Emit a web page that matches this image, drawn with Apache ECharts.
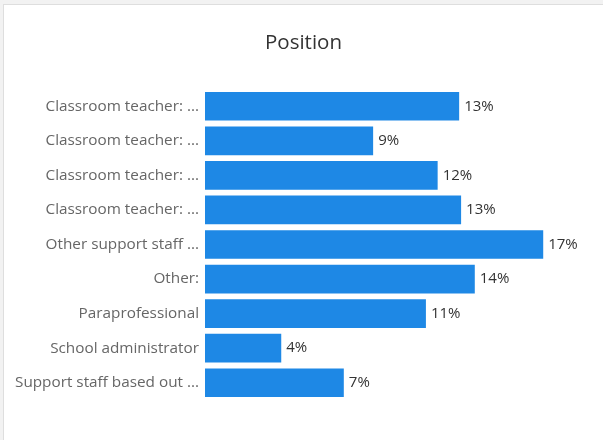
<!DOCTYPE html>
<html>
<head>
<meta charset="utf-8">
<script src="https://cdn.jsdelivr.net/npm/echarts@6/dist/echarts.min.js"></script>
<style>
  html, body { margin: 0; padding: 0; background: #f2f2f2; width: 603px; height: 440px; overflow: hidden; }
  #card { position: absolute; left: 3px; top: 4px; width: 640px; height: 480px; background: #fff; border: 1px solid #dedede; box-sizing: border-box; }
  #chart { position: absolute; left: 0; top: 0; width: 603px; height: 440px; }
</style>
</head>
<body>
<div id="card"></div>
<div id="chart"></div>
<script>
// Survey breakdown by respondent position (share of respondents, %)
const categories = [
  'Classroom teacher: ...',
  'Classroom teacher: ...',
  'Classroom teacher: ...',
  'Classroom teacher: ...',
  'Other support staff ...',
  'Other:',
  'Paraprofessional',
  'School administrator',
  'Support staff based out ...'
];
const shares = [13.0, 8.6, 11.9, 13.1, 17.3, 13.8, 11.3, 3.9, 7.1];

const chart = echarts.init(document.getElementById('chart'), null, { renderer: 'canvas' });
chart.setOption({
  backgroundColor: 'transparent',
  animation: false,
  title: {
    text: 'Position',
    left: 260,
    top: 28,
    textStyle: { fontFamily: 'Open Sans', fontSize: 20.5, fontWeight: 'normal', color: '#333' }
  },
  grid: { left: 205, right: 7, top: 89, bottom: 40, containLabel: false },
  xAxis: {
    type: 'value', min: 0, max: 20,
    show: false
  },
  yAxis: {
    type: 'category',
    inverse: true,
    data: categories,
    axisLine: { show: false },
    axisTick: { show: false },
    axisLabel: { margin: 6, fontFamily: 'Open Sans', fontSize: 15.3, color: '#666' }
  },
  series: [{
    type: 'bar',
    data: shares,
    barWidth: '83%',
    itemStyle: { color: '#1e88e5' },
    label: {
      show: true,
      position: 'right',
      distance: 5,
      fontFamily: 'Open Sans',
      fontSize: 15,
      color: '#333',
      formatter: p => Math.round(p.value) + '%'
    }
  }]
});
</script>
</body>
</html>
